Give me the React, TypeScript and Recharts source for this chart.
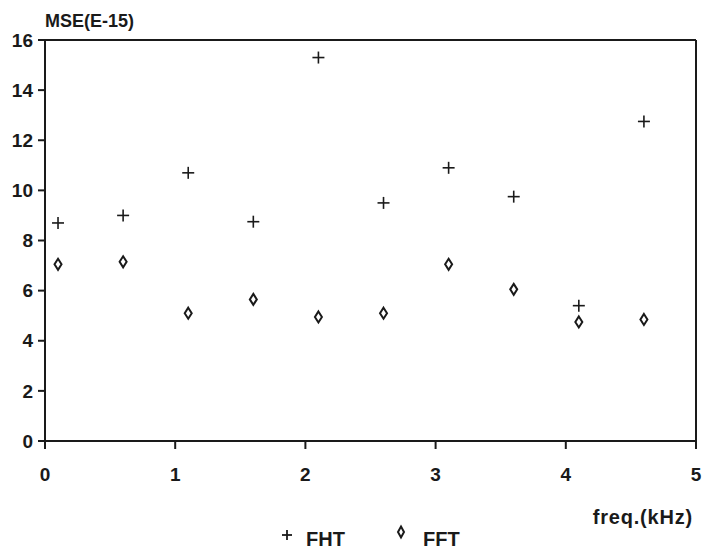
import React from 'react';
import { ScatterChart, Scatter, XAxis, YAxis, ReferenceLine } from 'recharts';

// frequencies (kHz) at which both transforms were measured
const freqs = [0.1, 0.6, 1.1, 1.6, 2.1, 2.6, 3.1, 3.6, 4.1, 4.6];
const fhtMse = [8.7, 9.0, 10.7, 8.75, 15.3, 9.5, 10.9, 9.75, 5.4, 12.75];
const fftMse = [7.05, 7.15, 5.1, 5.65, 4.95, 5.1, 7.05, 6.05, 4.75, 4.85];
const xTicks = [0, 1, 2, 3, 4, 5];
const yTicks = [0, 2, 4, 6, 8, 10, 12, 14, 16];

const fhtData = freqs.map((f, i) => ({ x: f, y: fhtMse[i] }));
const fftData = freqs.map((f, i) => ({ x: f, y: fftMse[i] }));

const INK = '#1a1a1a';
const FONT = '"Liberation Sans", Arial, sans-serif';

const PlusShape = (props: any) => {
  const { cx, cy } = props;
  if (cx == null || cy == null) return null;
  return (
    <g stroke={INK} strokeWidth={1.6}>
      <line x1={cx - 6} y1={cy} x2={cx + 6} y2={cy} />
      <line x1={cx} y1={cy - 6} x2={cx} y2={cy + 6} />
    </g>
  );
};

const DiamondShape = (props: any) => {
  const { cx, cy } = props;
  if (cx == null || cy == null) return null;
  return (
    <path
      d={`M${cx},${cy - 5.5} L${cx + 3.5},${cy} L${cx},${cy + 5.5} L${cx - 3.5},${cy} Z`}
      fill="none"
      stroke={INK}
      strokeWidth={2}
    />
  );
};

const tickStyle = { fill: INK, fontSize: 19, fontFamily: FONT, fontWeight: 'bold' };

export default function App() {
  return (
    <div style={{ position: 'absolute', left: 0, top: 0, width: 705, height: 551, background: '#fff', fontFamily: FONT, color: INK, fontWeight: 'bold' }}>
      <ScatterChart width={705} height={551} margin={{ top: 40, right: 9, bottom: 80, left: 0 }}>
        <XAxis
          type="number"
          dataKey="x"
          domain={[0, 5]}
          ticks={xTicks}
          stroke={INK}
          strokeWidth={2}
          tickSize={8}
          tickMargin={19}
          height={30}
          tick={tickStyle}
          allowDataOverflow
        />
        <YAxis
          type="number"
          dataKey="y"
          domain={[0, 16]}
          ticks={yTicks}
          stroke={INK}
          strokeWidth={2}
          tickSize={7}
          tickMargin={5}
          width={45}
          tick={tickStyle}
          allowDataOverflow
        />
        <ReferenceLine y={16} stroke={INK} strokeWidth={2} />
        <ReferenceLine x={5} stroke={INK} strokeWidth={2} />
        <Scatter name="FHT" data={fhtData} shape={<PlusShape />} isAnimationActive={false} />
        <Scatter name="FFT" data={fftData} shape={<DiamondShape />} isAnimationActive={false} />
      </ScatterChart>

      <div style={{ position: 'absolute', left: 45, top: 11, fontSize: 18 }}>MSE(E-15)</div>
      <div style={{ position: 'absolute', right: 12, top: 506, fontSize: 20, letterSpacing: 0.8 }}>freq.(kHz)</div>

      {/* legend */}
      <svg style={{ position: 'absolute', left: 0, top: 0 }} width={705} height={551}>
        <g stroke={INK} strokeWidth={1.8}>
          <line x1={282} y1={535} x2={292} y2={535} />
          <line x1={287} y1={530} x2={287} y2={540} />
        </g>
        <path d="M401,526.5 L404,532 L401,537.5 L398,532 Z" fill="none" stroke={INK} strokeWidth={2} />
      </svg>
      <div style={{ position: 'absolute', left: 306, top: 528, fontSize: 20 }}>FHT</div>
      <div style={{ position: 'absolute', left: 423, top: 528, fontSize: 20 }}>FFT</div>
    </div>
  );
}
